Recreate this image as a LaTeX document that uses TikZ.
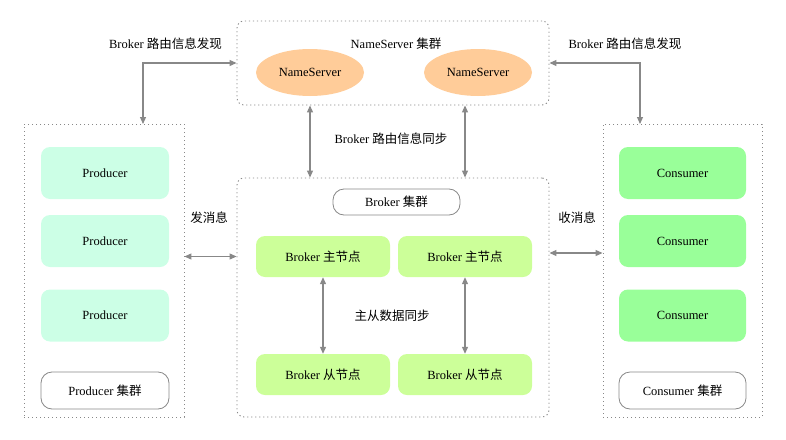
\documentclass[tikz,border=0pt]{standalone}
\usepackage{fontspec}
\setmainfont{Liberation Serif}
\newfontfamily\cjk{Noto Sans CJK SC}
\usetikzlibrary{arrows.meta,shapes.geometric}
\definecolor{nsfill}{HTML}{FFCC99}
\definecolor{prodfill}{HTML}{CCFFE6}
\definecolor{consfill}{HTML}{99FF99}
\definecolor{brokfill}{HTML}{CCFF99}
\definecolor{linegray}{HTML}{888888}
\begin{document}
\begin{tikzpicture}[x=1pt,y=-1pt,
  font=\fontsize{12.5}{14}\selectfont,
  cont/.style={draw=linegray, dash pattern=on 1.2pt off 2.8pt, line width=0.9pt, inner sep=0pt},
  ell/.style={ellipse, fill=nsfill, minimum width=108pt, minimum height=47pt, inner sep=0pt},
  prod/.style={rounded corners=9pt, fill=prodfill, minimum width=128pt, minimum height=52pt},
  cons/.style={rounded corners=9pt, fill=consfill, minimum width=127pt, minimum height=52pt},
  brok/.style={rounded corners=9pt, fill=brokfill, minimum width=134pt, minimum height=41pt},
  pill/.style={rounded corners=11pt, draw=linegray, line width=0.8pt, fill=white},
  lbl/.style={inner sep=0pt},
  arr/.style={draw=linegray, line width=1.1pt, {Triangle[length=7pt,width=6pt]}-{Triangle[length=7pt,width=6pt]}}
]
\useasboundingbox (0,0) rectangle (786,439);
% containers
\node[cont, rounded corners=7pt, minimum width=312pt, minimum height=84pt] (ns) at (393,63) {};
\node[cont, rounded corners=7pt, minimum width=312pt, minimum height=239pt] (bc) at (393,297.5) {};
\node[cont, minimum width=160pt, minimum height=293pt] (pc) at (104,270.5) {};
\node[cont, minimum width=159pt, minimum height=293pt] (cc) at (682.5,270.5) {};
% nameserver
\node[lbl] (nsl) at (396,44) {NameServer {\cjk 集群}};
\node[ell] (ns1) at (310,72.5) {NameServer};
\node[ell] (ns2) at (478,72.5) {NameServer};
% broker
\node[pill, minimum width=127pt, minimum height=26pt] (bcl) at (396.5,202) {Broker {\cjk 集群}};
\node[brok] (bm1) at (323,256.5) {Broker {\cjk 主节点}};
\node[brok] (bm2) at (465,256.5) {Broker {\cjk 主节点}};
\node[brok] (bs1) at (323,374.5) {Broker {\cjk 从节点}};
\node[brok] (bs2) at (465,374.5) {Broker {\cjk 从节点}};
\node[lbl] (msl) at (392,316) {\cjk 主从数据同步};
% producers
\node[prod] (p1) at (105,173) {Producer};
\node[prod] (p2) at (105,241) {Producer};
\node[prod] (p3) at (105,315.5) {Producer};
\node[pill, minimum width=128pt, minimum height=37pt] (pcl) at (105,390.5) {Producer {\cjk 集群}};
% consumers
\node[cons] (c1) at (682.5,173) {Consumer};
\node[cons] (c2) at (682.5,241) {Consumer};
\node[cons] (c3) at (682.5,315.5) {Consumer};
\node[pill, minimum width=127pt, minimum height=37pt] (ccl) at (682.5,390.5) {Consumer {\cjk 集群}};
% labels
\node[lbl] (l1) at (165.5,44) {Broker {\cjk 路由信息发现}};
\node[lbl] (l2) at (625,44) {Broker {\cjk 路由信息发现}};
\node[lbl] (l3) at (391,139) {Broker {\cjk 路由信息同步}};
\node[lbl] (l4) at (209,218) {\cjk 发消息};
\node[lbl] (l5) at (577,218) {\cjk 收消息};
% connectors
\coordinate (pk) at (143,124);
\coordinate (ck) at (640,124);
\draw[arr] (ns.west) -| (pk);
\draw[arr] (ns.east) -| (ck);
\draw[arr] (ns.south -| ns1) -- (bc.north -| ns1);
\draw[arr] (ns.south -| bm2) -- (bc.north -| bm2);
\draw[arr] (bm1.south) -- (bs1.north);
\draw[arr] (bm2.south) -- (bs2.north);
\draw[arr] (pc.east |- bm1) -- (bc.west |- bm1);
\coordinate (ry) at (0,253);
\draw[arr] (bc.east |- ry) -- (cc.west |- ry);
\end{tikzpicture}
\end{document}
